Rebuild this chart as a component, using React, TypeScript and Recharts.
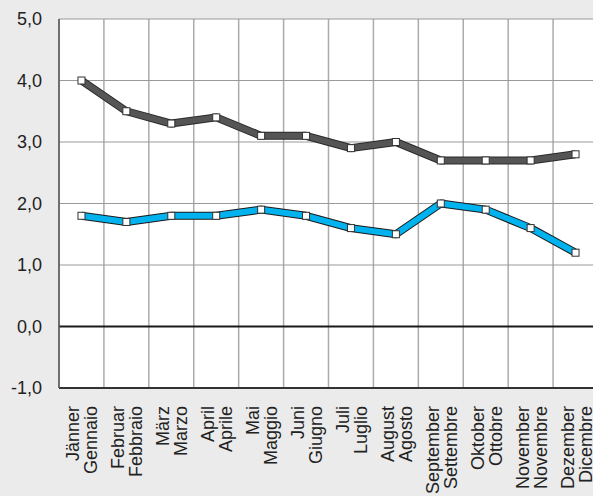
import React from 'react';
import { LineChart, Line, XAxis, YAxis, CartesianGrid, ReferenceLine } from 'recharts';

const monthsDe = ['Jänner', 'Februar', 'März', 'April', 'Mai', 'Juni', 'Juli', 'August', 'September', 'Oktober', 'November', 'Dezember'];
const monthsIt = ['Gennaio', 'Febbraio', 'Marzo', 'Aprile', 'Maggio', 'Giugno', 'Luglio', 'Agosto', 'Settembre', 'Ottobre', 'Novembre', 'Dicembre'];
const seriesDark = [4.0, 3.5, 3.3, 3.4, 3.1, 3.1, 2.9, 3.0, 2.7, 2.7, 2.7, 2.8];
const seriesCyan = [1.8, 1.7, 1.8, 1.8, 1.9, 1.8, 1.6, 1.5, 2.0, 1.9, 1.6, 1.2];
const yTicks = [-1, 0, 1, 2, 3, 4, 5];
const gridTicks = [0, 1, 2, 3, 4, 5, 6, 7, 8, 9, 10, 11, 12];
const labelTicks = monthsDe.map((_, i) => i + 0.5);

const data = monthsDe.map((de, i) => ({
  idx: i + 0.5,
  dark: seriesDark[i],
  cyan: seriesCyan[i],
}));

const FONT = '"Liberation Sans", Arial, sans-serif';

const MonthTick = (props: any) => {
  const { x, y, payload } = props;
  const i = Math.floor(Number(payload.value));
  const de = monthsDe[i];
  const it = monthsIt[i];
  if (de == null) return null;
  return (
    <g transform={`translate(${x},${y})`}>
      <text transform="rotate(-90)" textAnchor="end" fontSize={18} fontFamily={FONT} fill="#222">
        <tspan x={-18} y={-2}>{de}</tspan>
        <tspan x={-18} y={16}>{it}</tspan>
      </text>
    </g>
  );
};

const SquareDot = (props: any) => {
  const { cx, cy } = props;
  if (cx == null || cy == null) return null;
  return <rect x={cx - 3.5} y={cy - 3.5} width={7} height={7} fill="#fff" stroke="#333" strokeWidth={1} />;
};

const verticalGen = (p: any) => {
  const xa = p && p.xAxis;
  if (xa && typeof xa.scale === 'function') {
    return gridTicks.map((t) => xa.scale(t));
  }
  const off = p.offset;
  return gridTicks.map((t) => off.left + (t * off.width) / 12);
};

export default function App() {
  return (
    <div style={{ position: 'fixed', left: 0, top: 0, width: 593, height: 496, overflow: 'hidden', background: '#ebebeb' }}>
      <LineChart width={600} height={496} data={data} margin={{ top: 19, right: 2, bottom: 0, left: 0 }}>
        <CartesianGrid
          vertical={true}
          horizontal={false}
          verticalCoordinatesGenerator={verticalGen}
          stroke="#ababab"
          strokeWidth={1.5}
          fill="#ffffff"
        />
        <CartesianGrid vertical={false} horizontal={true} stroke="#9a9a9a" strokeWidth={1.2} />
        <XAxis
          type="number"
          dataKey="idx"
          domain={[0, 12]}
          ticks={labelTicks}
          interval={0}
          height={108}
          tick={<MonthTick />}
          tickLine={false}
          tickSize={0}
          tickMargin={0}
          axisLine={{ stroke: '#333', strokeWidth: 2 }}
        />
        <YAxis
          domain={[-1, 5]}
          ticks={yTicks}
          width={59}
          tickLine={false}
          tickSize={0}
          tickMargin={17}
          axisLine={{ stroke: '#555', strokeWidth: 1.5 }}
          tickFormatter={(v: number) => v.toFixed(1).replace('.', ',')}
          tick={{ fontSize: 18, fontFamily: FONT, fill: '#222' }}
        />
        <ReferenceLine y={0} stroke="#1a1a1a" strokeWidth={2} />
        <Line dataKey="dark" stroke="#2a2a2a" strokeWidth={8} dot={false} activeDot={false} isAnimationActive={false} strokeLinejoin="round" />
        <Line dataKey="dark" stroke="#555555" strokeWidth={6} dot={<SquareDot />} activeDot={false} isAnimationActive={false} strokeLinejoin="round" />
        <Line dataKey="cyan" stroke="#1a1a1a" strokeWidth={8} dot={false} activeDot={false} isAnimationActive={false} strokeLinejoin="round" />
        <Line dataKey="cyan" stroke="#00b2ee" strokeWidth={6} dot={<SquareDot />} activeDot={false} isAnimationActive={false} strokeLinejoin="round" />
      </LineChart>
    </div>
  );
}
